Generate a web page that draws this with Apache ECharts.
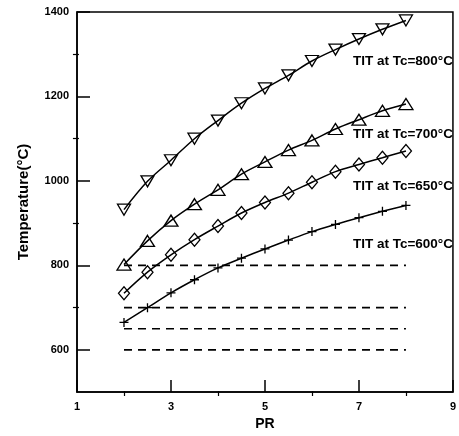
<!DOCTYPE html>
<html>
<head>
<meta charset="utf-8">
<script src="https://cdn.jsdelivr.net/npm/echarts@6/dist/echarts.min.js"></script>
<style>
  html, body { margin: 0; padding: 0; background: #fff; }
  #chart { width: 459px; height: 436px; }
</style>
</head>
<body>
<div id="chart"></div>
<script>
// pressure ratio values
const pr = [2, 2.5, 3, 3.5, 4, 4.5, 5, 5.5, 6, 6.5, 7, 7.5, 8];

// turbine inlet temperature
const tit800 = [932, 999, 1049, 1100, 1143, 1184, 1219, 1250, 1284, 1311, 1336, 1359, 1380];
const tit700 = [802, 858, 906, 945, 979, 1016, 1045, 1073, 1096, 1123, 1145, 1166, 1182];
const tit650 = [734, 784, 825, 861, 893, 924, 949, 971, 997, 1022, 1039, 1055, 1071];
const tit600 = [665, 700, 735, 766, 794, 817, 839, 860, 880, 897, 913, 928, 942];

// compressor temperature reference levels (dashed)
const tcLevels = [800, 700, 650, 600];
const tcRange = [2, 8];

const curveLabels = ['TIT at Tc=800°C', 'TIT at Tc=700°C', 'TIT at Tc=650°C', 'TIT at Tc=600°C'];

const yMajor = [600, 800, 1000, 1200, 1400];
const yMinor = [700, 900, 1100, 1300];
const xMajor = [1, 3, 5, 7, 9];
const xMinor = [2, 4, 6, 8];

const font = 'Liberation Sans, Arial, sans-serif';
const zip = (xs, ys) => xs.map((x, i) => [x, ys[i]]);

function curve(name, values, symbol, size, rotate) {
  return {
    name: name,
    type: 'line',
    data: zip(pr, values),
    smooth: 0.35,
    symbol: symbol,
    symbolSize: size,
    symbolRotate: rotate || 0,
    showAllSymbol: true,
    lineStyle: { color: '#000', width: 1.5 },
    itemStyle: { color: 'rgba(0,0,0,0)', borderColor: '#000', borderWidth: 1.3 },
    z: 3
  };
}

const series = [
  curve('800', tit800, 'triangle', [13, 11], 180),
  curve('700', tit700, 'triangle', [14, 11], 0),
  curve('650', tit650, 'diamond', [11, 13], 0),
  curve('600', tit600, 'path://M0,5L10,5M5,0L5,10', 9, 0)
];

tcLevels.forEach(t => {
  series.push({
    type: 'line',
    data: tcRange.map(x => [x, t]),
    symbol: 'none',
    lineStyle: { color: '#000', width: 1.6, type: [8, 6] },
    z: 2
  });
});

const labelY = [62, 135, 187, 245];
const graphics = curveLabels.map((txt, i) => ({
  type: 'text',
  right: 6,
  top: labelY[i] - 8,
  style: { text: txt, font: 'bold 13.5px ' + font, fill: '#000' }
}));

// helper axes that only carry the short minor ticks; they sit on the
// opposite side of the grid and are shifted back onto the main axis,
// so their "outside" ticks point into the plot
const minorAxis = (extra) => Object.assign({
  type: 'value',
  axisLine: { show: false },
  axisLabel: { show: false },
  splitLine: { show: false }
}, extra);

const plain = v => String(v);

const chart = echarts.init(document.getElementById('chart'));
chart.setOption({
  animation: false,
  backgroundColor: '#fff',
  grid: {
    left: 77, right: 2, top: 12, bottom: 40,
    show: true, borderColor: '#000', borderWidth: 1.5
  },
  xAxis: [
    {
      type: 'value', min: 1, max: 9, position: 'bottom',
      name: 'PR', nameLocation: 'middle', nameGap: 19,
      nameTextStyle: { fontFamily: font, fontWeight: 'bold', fontSize: 14, color: '#000' },
      axisLine: { lineStyle: { color: '#000', width: 1.5 } },
      axisTick: { show: true, inside: true, length: 12, customValues: xMajor, lineStyle: { color: '#000', width: 1.5 } },
      axisLabel: { customValues: xMajor, formatter: plain, fontFamily: font, fontWeight: 'bold', fontSize: 11, color: '#000', margin: 9 },
      splitLine: { show: false }
    },
    minorAxis({
      min: 1, max: 9, position: 'top', offset: -384,
      axisTick: { show: true, inside: false, length: 5, customValues: xMinor, lineStyle: { color: '#000', width: 1.2 } }
    })
  ],
  yAxis: [
    {
      type: 'value', min: 500, max: 1400, position: 'left',
      name: 'Temperature(°C)', nameLocation: 'middle', nameGap: 46,
      nameTextStyle: { fontFamily: font, fontWeight: 'bold', fontSize: 15, color: '#000' },
      axisLine: { lineStyle: { color: '#000', width: 1.5 } },
      axisTick: { show: true, inside: true, length: 13, customValues: yMajor, lineStyle: { color: '#000', width: 1.5 } },
      axisLabel: { customValues: yMajor, formatter: plain, fontFamily: font, fontWeight: 'bold', fontSize: 11, color: '#000', margin: 8 },
      splitLine: { show: false }
    },
    minorAxis({
      min: 500, max: 1400, position: 'right', offset: -380,
      axisTick: { show: true, inside: false, length: 6, customValues: yMinor, lineStyle: { color: '#000', width: 1.2 } }
    })
  ],
  series: series,
  graphic: graphics
});
</script>
</body>
</html>
